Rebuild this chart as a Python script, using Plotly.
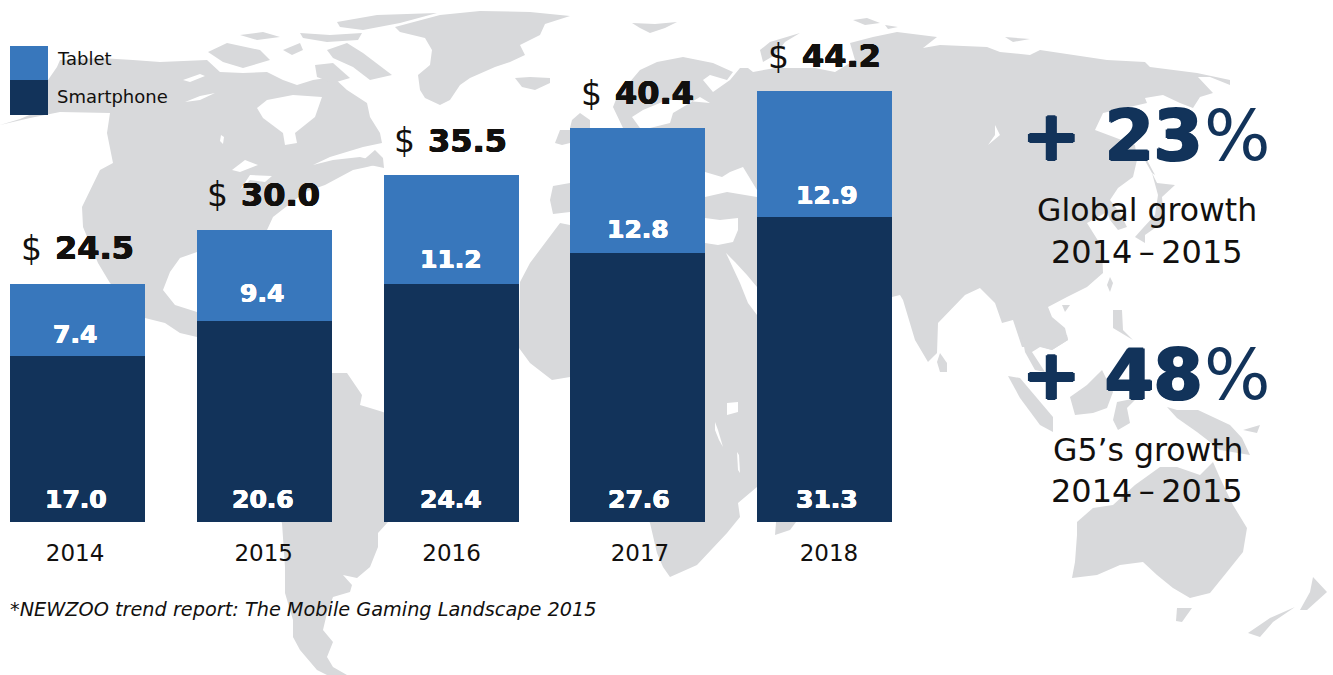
import plotly.graph_objects as go

years = [2014, 2015, 2016, 2017, 2018]
year_labels = ["2014", "2015", "2016", "2017", "2018"]
smartphone = [17.0, 20.6, 24.4, 27.6, 31.3]
tablet = [7.4, 9.4, 11.2, 12.8, 12.9]
totals = [24.5, 30.0, 35.5, 40.4, 44.2]

W, H = 1333, 675
BASE = 522
PITCH = 186.75
UNIT = 9.75
LEFT = 77.5
BLUE, NAVY, GREY, INK = "#3877bc", "#12335a", "#d8d9db", "#12100e"
SANS = "DejaVu Sans"

# Nudges so the labels sit where the reference set them (pixels)
tablet_dy = [-1, 5, 2, 0, -2]
tablet_dx = [-3, -2, 0, 0, 2]
phone_dx = [-2, -1, 0, 1, 2]

# Decorative background world map, traced in page pixels
land = [
    # North America
    [(0,125),(20,119),(48,107),(48,80),(57,67),(60,60),(100,58),(133,60),(160,62),(207,60),(220,72),(243,73),(267,72),(283,80),(297,85),(313,80),(333,77),(347,90),(367,103),(370,117),(380,133),(382,143),(363,147),(330,157),(313,165),(333,160),(360,157),(383,163),(367,167),(353,170),(325,185),(305,192),(273,217),(267,230),(250,240),(197,252),(180,258),(170,272),(163,290),(175,305),(197,312),(240,330),(230,370),(197,337),(180,333),(165,323),(145,318),(110,283),(98,263),(83,227),(82,207),(100,170),(113,163),(107,133),(110,113),(60,112),(30,118)],
    [(208,52),(227,43),(260,50),(270,60),(243,68),(223,62)],
    [(240,35),(263,32),(280,37),(257,40)],
    [(283,50),(300,43),(303,50),(292,55)],
    [(327,50),(347,43),(363,53),(392,75),(370,80),(353,67),(333,58)],
    [(315,65),(333,63),(350,78),(333,83),(317,77)],
    [(337,22),(377,15),(437,13),(400,23),(363,30),(340,27)],
    [(300,33),(330,35),(362,33),(358,40),(327,42),(303,38)],
    [(360,163),(375,150),(383,158),(384,168),(370,165)],
    # Greenland, Iceland, Svalbard, Britain, Ireland
    [(395,27),(440,15),(480,11),(530,12),(570,16),(545,24),(540,35),(520,45),(525,55),(510,62),(495,67),(470,78),(460,85),(450,100),(440,105),(425,98),(420,90),(418,75),(430,65),(432,50),(425,38),(400,32)],
    [(515,78),(530,77),(550,78),(550,83),(535,90),(522,87)],
    [(632,23),(655,24),(677,22),(665,28),(650,33),(640,28)],
    [(570,128),(572,120),(580,113),(590,120),(590,128)],
    [(555,143),(560,130),(570,130),(570,143),(562,145)],
    # Eurasia
    [(623,128),(613,107),(617,97),(640,70),(657,62),(683,57),(713,63),(733,72),(727,80),(710,75),(703,80),(713,92),(730,80),(740,68),(748,68),(753,72),(775,68),(815,68),(835,72),(845,66),(855,60),(850,43),(873,37),(897,32),(937,37),(923,48),(940,45),(987,47),(1000,52),(1030,55),(1040,50),(1107,60),(1145,62),(1150,67),(1197,73),(1230,80),(1230,85),(1210,77),(1198,77),(1213,93),(1200,97),(1193,108),(1180,103),(1163,95),(1145,98),(1147,103),(1103,113),(1095,130),(1103,133),(1135,145),(1137,160),(1133,177),(1118,188),(1110,200),(1120,213),(1127,227),(1118,230),(1110,220),(1107,212),(1087,223),(1102,247),(1103,273),(1087,287),(1067,297),(1048,307),(1052,317),(1065,328),(1068,340),(1052,350),(1042,347),(1028,337),(1025,347),(1022,347),(1013,320),(1002,323),(995,303),(980,288),(965,295),(938,323),(937,353),(928,362),(915,340),(903,300),(900,295),(892,297),(860,340),(757,345),(705,340),(705,218),(570,212),(553,214),(550,200),(553,186),(570,183),(570,128)],
    [(760,50),(770,42),(800,33),(785,42),(775,55),(763,62)],
    [(853,20),(867,18),(880,23),(865,25)],
    [(885,25),(898,27),(888,29)],
    [(1005,37),(1030,39),(1013,42)],
    # Africa
    [(560,223),(545,243),(530,263),(520,282),(519,348),(530,363),(552,380),(570,377),(640,500),(650,523),(657,553),(663,567),(670,577),(697,565),(727,533),(740,517),(738,503),(757,487),(790,430),(820,350),(757,330),(757,245),(705,245),(570,225)],
    [(775,535),(790,530),(805,510),(815,470),(790,490),(777,510)],
    # South America
    [(197,337),(240,350),(332,373),(347,373),(362,395),(360,405),(370,408),(383,412),(440,440),(420,500),(388,522),(378,533),(378,547),(370,567),(357,578),(343,575),(352,585),(350,592),(333,597),(327,613),(323,630),(333,642),(327,657),(333,667),(347,675),(327,675),(317,670),(300,650),(293,637),(293,620),(285,593),(285,567),(282,523),(240,450)],
    # Asia-Pacific islands
    [(1143,157),(1147,160),(1155,175),(1152,173)],
    [(1152,173),(1157,183),(1175,185),(1162,197),(1163,208),(1162,223),(1145,235),(1145,243),(1135,237),(1143,228),(1155,215),(1158,195)],
    [(1110,277),(1113,283),(1110,292),(1107,285)],
    [(1062,305),(1070,305),(1065,312)],
    [(1113,310),(1122,310),(1123,330),(1133,340),(1113,328)],
    [(940,353),(947,363),(947,372),(940,372),(937,362)],
    [(1022,335),(1067,335),(1068,340),(1052,350),(1040,347),(1032,352),(1045,372),(1035,370),(1025,352)],
    [(1008,376),(1020,378),(1053,417),(1053,432),(1040,425),(1020,398)],
    [(1070,397),(1087,385),(1102,370),(1113,392),(1107,408),(1093,413),(1075,415)],
    [(1113,420),(1117,402),(1137,398),(1127,408),(1130,423),(1118,430)],
    [(1167,407),(1177,410),(1198,410),(1230,425),(1242,438),(1250,455),(1220,450),(1210,442),(1197,432),(1177,418)],
    [(1243,430),(1260,425),(1257,433)],
    [(1077,522),(1093,508),(1113,505),(1135,485),(1160,467),(1177,467),(1200,475),(1213,462),(1220,478),(1233,505),(1247,528),(1243,552),(1227,572),(1210,593),(1190,598),(1173,588),(1157,575),(1143,562),(1120,565),(1097,575),(1072,578),(1075,562),(1077,535)],
    [(1177,608),(1192,608),(1182,622),(1176,621)],
    [(1313,577),(1327,592),(1307,610),(1300,610),(1310,592)],
    [(1295,607),(1273,622),(1260,637),(1248,633),(1270,618)],
]
water = [
    [(257,108),(267,100),(293,95),(322,97),(315,117),(295,133),(297,143),(285,145),(283,133),(263,118)],
    [(183,80),(200,74),(205,76),(190,82)],
    [(185,102),(200,96),(215,93),(200,100)],
    [(221,135),(224,137),(223,144),(220,141)],
    [(232,170),(245,160),(258,165),(240,172)],
    [(240,190),(250,175),(272,176),(265,182),(250,180)],
    [(632,117),(643,110),(667,100),(677,100),(710,103),(700,97),(673,113),(670,123),(650,128),(640,128)],
    [(705,172),(722,177),(730,172),(743,167),(757,190),(757,197),(727,192),(705,197)],
    [(705,218),(720,220),(738,218),(738,230),(733,242),(718,245),(705,243)],
    [(726,253),(735,262),(747,275),(757,287),(757,315),(748,303),(740,283)],
    [(727,403),(738,402),(738,412),(727,415)],
    [(715,422),(718,430),(723,447),(719,440),(715,430)],
    [(737,452),(739,455),(740,473),(738,470)],
    [(995,125),(1000,135),(988,145),(995,135)],
    [(545,222),(553,214),(562,218),(572,214),(572,219),(560,223),(548,228)],
]

def path(points):
    cells = [f"{x / W:.5f},{(BASE - y) / BASE:.5f}" for x, y in points]
    return "M" + "L".join(cells) + "Z"

shapes = [dict(type="path", xref="paper", yref="paper", layer="below", path=path(p),
               fillcolor=GREY, line_width=0) for p in land]
shapes += [dict(type="path", xref="paper", yref="paper", layer="below", path=path(p),
                fillcolor="white", line_width=0) for p in water]
for y0, y1, col in [(46, 80, BLUE), (80, 115, NAVY)]:
    shapes.append(dict(type="rect", xref="paper", yref="paper", x0=10 / W, x1=48 / W,
                       y0=(BASE - y1) / BASE, y1=(BASE - y0) / BASE,
                       fillcolor=col, line_width=0))

fig = go.Figure()
fig.add_bar(x=years, y=smartphone, name="Smartphone", marker=dict(color=NAVY, line_width=0), width=135 / PITCH)
fig.add_bar(x=years, y=tablet, name="Tablet", marker=dict(color=BLUE, line_width=0), width=135 / PITCH)

def heavy(color, r):
    return f"{r}px 0 0 {color}, -{r}px 0 0 {color}, 0 {r * 0.6}px 0 {color}, 0 -{r * 0.6}px 0 {color}"

ann = []
inner = dict(family=SANS, size=25, color="white", shadow=heavy("white", 0.5))
for i, yr in enumerate(years):
    s, t, tot = smartphone[i], tablet[i], totals[i]
    ann.append(dict(x=yr, y=0, yshift=23, xshift=phone_dx[i], text=f"<b>{s:.1f}</b>",
                    showarrow=False, font=inner))
    ann.append(dict(x=yr, y=s, yshift=23 + tablet_dy[i], xshift=tablet_dx[i], text=f"<b>{t:.1f}</b>",
                    showarrow=False, font=inner))
    ann.append(dict(x=yr, y=tot, yshift=35, xshift=-25, xanchor="left", text=f"<b>{tot:.1f}</b>",
                    showarrow=False,
                    font=dict(family=SANS, size=32, color=INK, shadow=heavy(INK, 0.6))))
    ann.append(dict(x=yr, y=tot, yshift=35, xshift=-34, xanchor="right", text="$",
                    showarrow=False, font=dict(family=SANS, size=33, color=INK)))

def page_text(x, y, text, size, color=INK, anchor="center", shadow=None):
    font = dict(family=SANS, size=size, color=color)
    if shadow:
        font["shadow"] = shadow
    ann.append(dict(xref="paper", yref="paper", x=x / W, y=(BASE - y) / BASE, text=text,
                    showarrow=False, xanchor=anchor, yanchor="middle", font=font))

DASH = "2014\u2009–\u20092015"
page_text(55, 59, "Tablet", 18, anchor="left")
page_text(55, 96, "Smartphone", 18, anchor="left")
page_text(1204, 136, "<b>+ 23</b>", 70, NAVY, "right", heavy(NAVY, 1.4))
page_text(1202, 136, "%", 70, NAVY, "left")
page_text(1147, 210, "Global growth", 31.5)
page_text(1147, 252, DASH, 32)
page_text(1204, 375, "<b>+ 48</b>", 70, NAVY, "right", heavy(NAVY, 1.4))
page_text(1202, 375, "%", 70, NAVY, "left")
page_text(1148, 450, "G5’s growth", 31.5)
page_text(1147, 491, DASH, 32)
page_text(8, 609, "<i>*NEWZOO trend report: The Mobile Gaming Landscape 2015</i>", 19.3, anchor="left")

x0 = 2014 - LEFT / PITCH
fig.update_layout(
    width=W, height=H, margin=dict(l=0, r=0, t=0, b=H - BASE),
    paper_bgcolor="white", plot_bgcolor="rgba(0,0,0,0)",
    barmode="stack", showlegend=False, shapes=shapes, annotations=ann,
    xaxis=dict(range=[x0, x0 + W / PITCH], showgrid=False, zeroline=False, showline=False,
               tickmode="array",
               tickvals=[2013.987, 2014.997, 2016.003, 2017.012, 2018.024],
               ticktext=year_labels, ticks="outside", ticklen=10, tickcolor="rgba(0,0,0,0)",
               tickfont=dict(family=SANS, size=23, color=INK)),
    yaxis=dict(range=[0, BASE / UNIT], visible=False),
)
fig.write_html("out.html", config=dict(displayModeBar=False),
               post_script="document.body.style.margin='0';")
